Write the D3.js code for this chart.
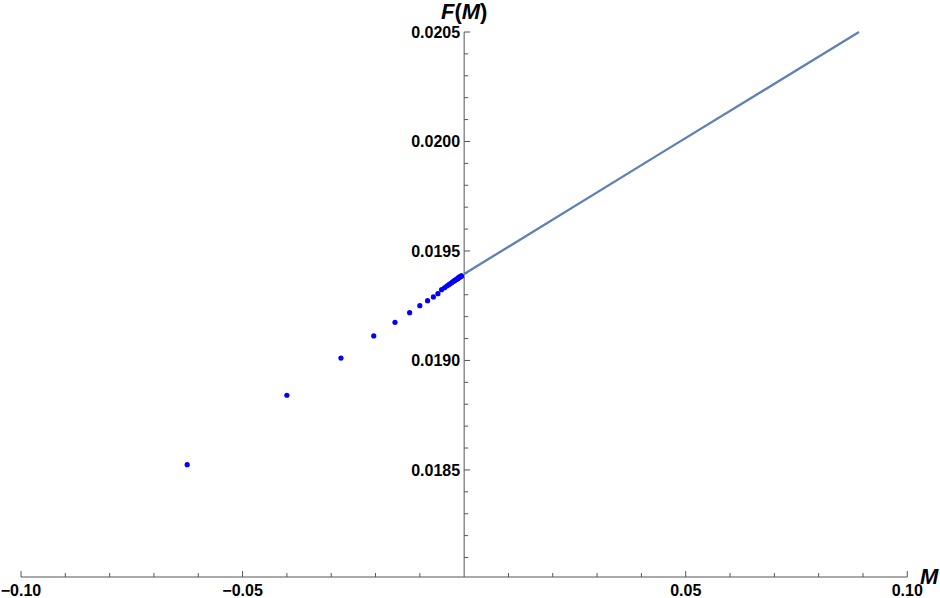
<!DOCTYPE html>
<html><head><meta charset="utf-8">
<script src="https://cdn.jsdelivr.net/npm/d3@7"></script>
<style>body{margin:0;background:#fff}svg{display:block}text{font-family:"Liberation Sans",Arial,sans-serif}</style>
</head><body>
<svg id="c" width="940" height="598"></svg>
<script>
// Data
const dotM = [-0.0625,-0.0400,-0.0278,-0.0204,-0.0156,-0.0123,-0.0100,-0.00826,-0.00694,-0.00592,
  -0.00510,-0.00444,-0.00391,-0.00346,-0.00309,-0.00277,-0.00250,-0.00227,-0.00207,-0.00189,-0.00174,
  -0.00160,-0.00148,-0.00137,-0.00128,-0.00119,-0.00111,-0.00098,-0.00087,-0.00077,-0.00069,-0.00062];
const dotF = [0.018524,0.018841,0.019011,0.019112,0.019174,0.019218,0.019250,0.019273,0.019290,0.019305,
  0.019323,0.019332,0.019340,0.019346,0.019351,0.019356,0.019360,0.019363,0.019366,0.019368,0.019370,
  0.019372,0.019374,0.019376,0.019377,0.019378,0.019379,0.019381,0.019383,0.019384,0.019385,0.019386];
const lineM = [0.0, 0.0445, 0.0891];
const lineF = [0.019395, 0.019948, 0.020500];
const xMajor = [-0.10, -0.05, 0.05, 0.10];
const xMajorLabels = ["\u22120.10", "\u22120.05", "0.05", "0.10"];
const xMinor = [-0.09, -0.08, -0.07, -0.06, -0.04, -0.03, -0.02, -0.01, 0.01, 0.02, 0.03, 0.04, 0.06, 0.07, 0.08, 0.09];
const yMajor = [0.0185, 0.0190, 0.0195, 0.0200, 0.0205];
const yMajorLabels = ["0.0185", "0.0190", "0.0195", "0.0200", "0.0205"];
const yMinor = [0.0181, 0.0182, 0.0183, 0.0184, 0.0186, 0.0187, 0.0188, 0.0189, 0.0191, 0.0192, 0.0193, 0.0194,
  0.0196, 0.0197, 0.0198, 0.0199, 0.0201, 0.0202, 0.0203, 0.0204];

const svg = d3.select("#c");
const x = d3.scaleLinear().domain([-0.1, 0.1]).range([21, 907.3]);
const y = d3.scaleLinear().domain([0.018011, 0.0205]).range([577, 32]);
const axisColor = "#555";

// x axis
const xAxisG = svg.append("g");
xAxisG.append("line").attr("x1", x(-0.1)).attr("x2", x(0.1)).attr("y1", y(0.018011)).attr("y2", y(0.018011))
  .attr("stroke", axisColor).attr("stroke-width", 1);
xAxisG.selectAll(".xmi").data(xMinor).join("line")
  .attr("x1", d => x(d)).attr("x2", d => x(d)).attr("y1", 577).attr("y2", 573)
  .attr("stroke", axisColor);
xAxisG.selectAll(".xma").data(xMajor).join("line")
  .attr("x1", d => x(d)).attr("x2", d => x(d)).attr("y1", 577).attr("y2", 571)
  .attr("stroke", axisColor);
xAxisG.selectAll(".xl").data(xMajor).join("text")
  .attr("x", d => x(d)).attr("y", 596).attr("text-anchor", "middle")
  .attr("font-size", 16).attr("font-weight", "bold").attr("fill", "#000")
  .text((d, i) => xMajorLabels[i]);

// y axis
const yAxisG = svg.append("g");
const x0 = x(0);
yAxisG.append("line").attr("x1", x0).attr("x2", x0).attr("y1", y(0.0205)).attr("y2", y(0.018011))
  .attr("stroke", axisColor);
yAxisG.selectAll(".ymi").data(yMinor).join("line")
  .attr("x1", x0).attr("x2", x0 + 4).attr("y1", d => y(d)).attr("y2", d => y(d))
  .attr("stroke", axisColor);
yAxisG.selectAll(".yma").data(yMajor).join("line")
  .attr("x1", x0).attr("x2", x0 + 6).attr("y1", d => y(d)).attr("y2", d => y(d))
  .attr("stroke", axisColor);
yAxisG.selectAll(".yl").data(yMajor).join("text")
  .attr("x", x0 - 4).attr("y", d => y(d)).attr("dy", "0.36em").attr("text-anchor", "end")
  .attr("font-size", 16).attr("font-weight", "bold").attr("fill", "#000")
  .text((d, i) => yMajorLabels[i]);

// line
const lineData = lineM.map((m, i) => [m, lineF[i]]);
svg.append("path").datum(lineData)
  .attr("d", d3.line().x(d => x(d[0])).y(d => y(d[1])))
  .attr("fill", "none").attr("stroke", "#5E81B5").attr("stroke-width", 2.3);

// dots
svg.selectAll(".dot").data(dotM.map((m, i) => [m, dotF[i]])).join("circle")
  .attr("cx", d => x(d[0])).attr("cy", d => y(d[1])).attr("r", 2.6).attr("fill", "#0000ff");

// axis labels
const fl = svg.append("text").attr("x", x0).attr("y", 19).attr("text-anchor", "middle")
  .attr("font-size", 22).attr("font-weight", "bold").attr("fill", "#000");
fl.append("tspan").attr("font-style", "italic").text("F");
fl.append("tspan").text("(");
fl.append("tspan").attr("font-style", "italic").text("M");
fl.append("tspan").text(")");
svg.append("text").attr("x", 920).attr("y", 584)
  .attr("font-size", 22).attr("font-weight", "bold").attr("font-style", "italic").attr("fill", "#000").text("M");
</script>
</body></html>
